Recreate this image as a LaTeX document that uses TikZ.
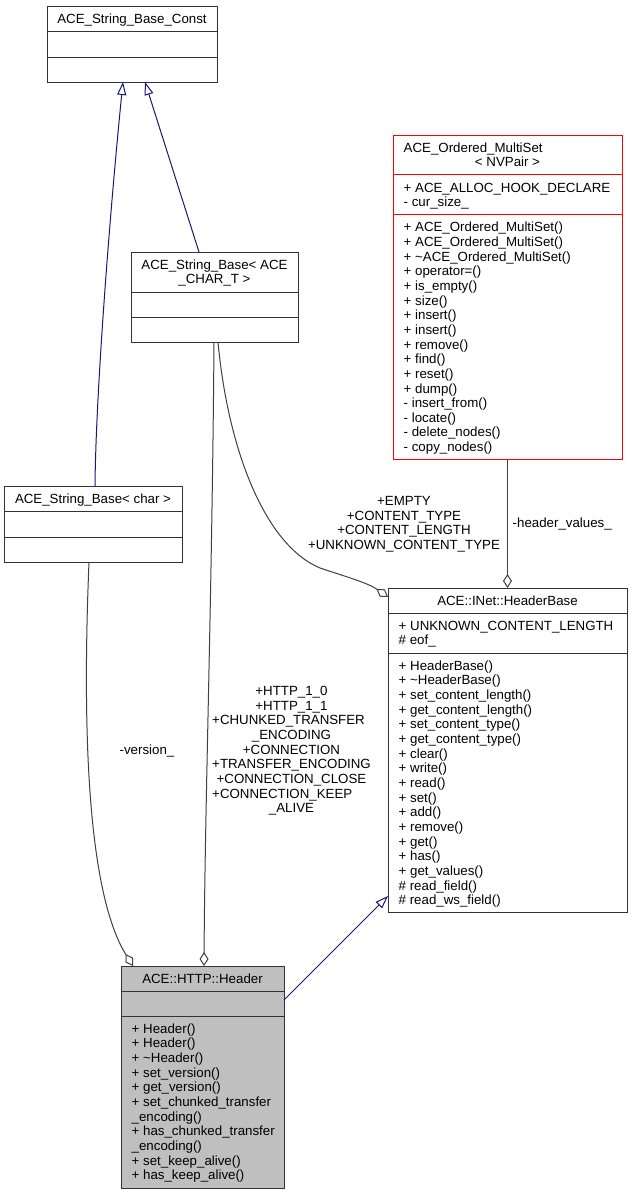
\documentclass[tikz,border=0pt]{standalone}
\usepackage{fontspec}
\setmainfont{Liberation Sans}
\usetikzlibrary{arrows.meta,calc}
\definecolor{edgegrey}{HTML}{404040}
\definecolor{inhblue}{HTML}{191970}
\definecolor{boxgrey}{HTML}{BFBFBF}
\definecolor{boxline}{HTML}{333333}
\newcommand\dgfont{\fontsize{13.3}{14.65}\selectfont}
\begin{document}
\begin{tikzpicture}[x=1pt,y=-1pt,
  umlbox/.style={draw=boxline, fill=white, line width=1pt, inner sep=0pt, outer sep=0pt, anchor=north west},
  divider/.style={draw=boxline, line width=1pt},
  lbl/.style={inner sep=0pt, font=\dgfont},
  ttl/.style={lbl, anchor=base},
  members/.style={lbl, align=left, anchor=north west},
  inherit/.style={draw=inhblue, line width=1pt, -{Triangle[open, length=13pt, width=9pt]}},
  aggr/.style={draw=edgegrey, line width=1pt, -{Diamond[open, length=14pt, width=9pt]}},
]
\fill[white] (0,0) rectangle (632,1195);
\useasboundingbox (0,0) rectangle (632,1195);

% ACE_String_Base_Const
\node[umlbox, minimum width=170pt, minimum height=76pt] (const) at (47,6) {};
\draw[divider] ($(const.north west)+(0,25)$) -- ($(const.north east)+(0,25)$);
\draw[divider] ($(const.north west)+(0,51)$) -- ($(const.north east)+(0,51)$);
\node[ttl] (const-t) at (132,23.1) {ACE\_String\_Base\_Const};

% ACE_String_Base< ACE_CHAR_T >
\node[umlbox, minimum width=167pt, minimum height=90pt] (chT) at (131,252) {};
\draw[divider] ($(chT.north west)+(0,40)$) -- ($(chT.north east)+(0,40)$);
\draw[divider] ($(chT.north west)+(0,65)$) -- ($(chT.north east)+(0,65)$);
\node[ttl] (chT-t1) at (214.5,269.1) {ACE\_String\_Base< ACE};
\node[ttl] (chT-t2) at (214.5,283.75) {\_CHAR\_T >};

% ACE_String_Base< char >
\node[umlbox, minimum width=178pt, minimum height=76pt] (charb) at (4,486) {};
\draw[divider] ($(charb.north west)+(0,25)$) -- ($(charb.north east)+(0,25)$);
\draw[divider] ($(charb.north west)+(0,51)$) -- ($(charb.north east)+(0,51)$);
\node[ttl] (charb-t) at (93,503.1) {ACE\_String\_Base< char >};

% ACE_Ordered_MultiSet< NVPair >
\node[umlbox, draw=red, minimum width=229pt, minimum height=324.6pt] (ms) at (393,135) {};
\draw[divider, draw=red] ($(ms.north west)+(0,39.8)$) -- ($(ms.north east)+(0,39.8)$);
\draw[divider, draw=red] ($(ms.north west)+(0,79.6)$) -- ($(ms.north east)+(0,79.6)$);
\node[lbl, anchor=base west] (ms-t1) at (403.5,152.1) {ACE\_Ordered\_MultiSet};
\node[ttl] (ms-t2) at (507.5,166.75) {< NVPair >};
\node[members] (ms-m) at (403.5,181.6) {\strut + ACE\_ALLOC\_HOOK\_DECLARE\\- cur\_size\_};
\node[members] (ms-f) at (403.5,221.4) {\strut + ACE\_Ordered\_MultiSet()\\+ ACE\_Ordered\_MultiSet()\\+ \textasciitilde ACE\_Ordered\_MultiSet()\\+ operator=()\\+ is\_empty()\\+ size()\\+ insert()\\+ insert()\\+ remove()\\+ find()\\+ reset()\\+ dump()\\- insert\_from()\\- locate()\\- delete\_nodes()\\- copy\_nodes()};

% ACE::INet::HeaderBase
\node[umlbox, minimum width=239pt, minimum height=324.5pt] (hb) at (388,588) {};
\draw[divider] ($(hb.north west)+(0,25)$) -- ($(hb.north east)+(0,25)$);
\draw[divider] ($(hb.north west)+(0,65)$) -- ($(hb.north east)+(0,65)$);
\node[ttl] (hb-t) at (507.5,605.1) {ACE::INet::HeaderBase};
\node[members] (hb-m) at (398.5,619.85) {\strut + UNKNOWN\_CONTENT\_LENGTH\\\# eof\_};
\node[members] (hb-f) at (398.5,659.85) {\strut + HeaderBase()\\+ \textasciitilde HeaderBase()\\+ set\_content\_length()\\+ get\_content\_length()\\+ set\_content\_type()\\+ get\_content\_type()\\+ clear()\\+ write()\\+ read()\\+ set()\\+ add()\\+ remove()\\+ get()\\+ has()\\+ get\_values()\\\# read\_field()\\\# read\_ws\_field()};

% ACE::HTTP::Header
\node[umlbox, fill=boxgrey, minimum width=163pt, minimum height=222pt] (header) at (121,966) {};
\draw[divider] ($(header.north west)+(0,25)$) -- ($(header.north east)+(0,25)$);
\draw[divider] ($(header.north west)+(0,50)$) -- ($(header.north east)+(0,50)$);
\node[ttl] (header-t) at (202.5,983.1) {ACE::HTTP::Header};
\node[members] (header-f) at (131.5,1022.85) {\strut + Header()\\+ Header()\\+ \textasciitilde Header()\\+ set\_version()\\+ get\_version()\\+ set\_chunked\_transfer\\\_encoding()\\+ has\_chunked\_transfer\\\_encoding()\\+ set\_keep\_alive()\\+ has\_keep\_alive()};

% inheritance
\draw[inherit] ($(charb.north)+(2,0)$) .. controls (96,380) and (113,180) .. ($(const.south)+(-9,0)$);
\draw[inherit] ($(chT.north)+(-15.5,0)$) -- ($(const.south)+(13,0)$);
\draw[inherit] ($(header.north east)+(0,34)$) -- ($(hb.north west)+(0,308)$);

% aggregation
\draw[aggr] ($(chT.south)+(3.5,0)$) .. controls (228,450) and (265,545) .. (320,568) .. controls (350,578) and (368,583) .. ($(hb.north west)+(0,9)$);
\draw[aggr] (ms.south) -- (hb.north);
\draw[aggr] ($(chT.south)+(-0.5,0)$) .. controls (212,600) and (205,800) .. ($(header.north)+(1.5,0)$);
\draw[aggr] ($(charb.south)+(-4,0)$) .. controls (80,780) and (95,905) .. ($(header.north west)+(12,0)$);

% edge labels
\node[lbl, align=center, anchor=north] (lab-empty) at (404,495.2) {\strut +EMPTY\\+CONTENT\_TYPE\\+CONTENT\_LENGTH\\+UNKNOWN\_CONTENT\_TYPE};
\node[lbl, anchor=base west] (lab-hv) at (512.5,527.2) {-header\_values\_};
\node[lbl, anchor=base] (lab-version) at (147,754.6) {-version\_};
\node[lbl, anchor=north] (lab-http) at (291.5,685.2) {\begin{tabular}{@{}c@{}}+HTTP\_1\_0\\+HTTP\_1\_1\\\multicolumn{1}{@{}l@{}}{+CHUNKED\_TRANSFER}\\\_ENCODING\\+CONNECTION\\+TRANSFER\_ENCODING\\+CONNECTION\_CLOSE\\\multicolumn{1}{@{}l@{}}{+CONNECTION\_KEEP}\\\_ALIVE\end{tabular}};
\end{tikzpicture}
\end{document}
